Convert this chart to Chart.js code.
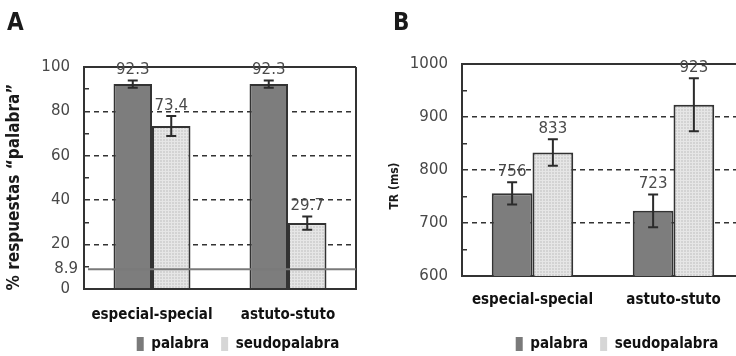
<!DOCTYPE html>
<html lang="es">
  <head>
    <meta charset="UTF-8" />
    <title>Respuestas palabra y TR</title>
    <script src="https://cdn.jsdelivr.net/npm/chart.js@4.4.1/dist/chart.umd.min.js"></script>
    <style>
      body { margin: 0; width: 736px; height: 356px; overflow: hidden; background: #fff; position: relative; }
      #a { position: absolute; left: 0; top: 0; }
      #b { position: absolute; left: 368px; top: 0; }
    </style>
  </head>
  <body>
    <canvas id="a" width="368" height="356"></canvas>
    <canvas id="b" width="384" height="356"></canvas>
    <script>
    const categorias = ['especial-special', 'astuto-stuto'];
    const series = ['palabra', 'seudopalabra'];

    // panel A: % respuestas "palabra"
    const pctPalabra = [92.3, 92.3];
    const pctSeudo = [73.4, 29.7];
    const errPctPalabra = [1.6, 1.6];
    const errPctSeudo = [4.5, 3.0];
    const nivelAzar = 8.9;

    // panel B: tiempo de respuesta (ms)
    const trPalabra = [756, 723];
    const trSeudo = [833, 923];
    const errTrPalabra = [21, 31];
    const errTrSeudo = [25, 50];

    const CONDENSADA = '"DejaVu Sans Condensed", "DejaVu Sans", sans-serif';
    const NUMEROS = '15px "DejaVu Sans"';
    const OSCURO = '#333';
    const NADA = 'rgba(0,0,0,0)';

    // trama cuadriculada gris claro para seudopalabra
    function trama(ctx) {
      const c = document.createElement('canvas');
      c.width = 3; c.height = 3;
      const g = c.getContext('2d');
      g.fillStyle = '#d3d3d3'; g.fillRect(0, 0, 3, 3);
      g.fillStyle = '#e6e6e6'; g.fillRect(0, 0, 3, 1); g.fillRect(0, 0, 1, 3);
      return ctx.createPattern(c, 'repeat');
    }

    // barras de error + valor encima, y la linea de azar
    const errores = {
      id: 'errores',
      afterDatasetsDraw(chart, args, opts) {
        const {ctx, chartArea} = chart;
        const y = chart.scales.y;
        ctx.save();
        if (opts.linea) {
          const py = y.getPixelForValue(opts.linea);
          ctx.strokeStyle = '#7a7a7a'; ctx.lineWidth = 2;
          ctx.beginPath(); ctx.moveTo(chartArea.left + 4, py); ctx.lineTo(chartArea.right, py); ctx.stroke();
          ctx.font = NUMEROS; ctx.fillStyle = '#484848';
          ctx.textAlign = 'right'; ctx.textBaseline = 'middle';
          ctx.fillText(String(opts.linea), chartArea.left - 6, py);
        }
        chart.data.datasets.forEach((ds, i) => {
          chart.getDatasetMeta(i).data.forEach((bar, j) => {
            const v = ds.data[j], e = ds.errores[j];
            const arriba = y.getPixelForValue(v + e), abajo = y.getPixelForValue(v - e);
            ctx.strokeStyle = '#2b2b2b'; ctx.lineWidth = 2;
            ctx.beginPath();
            ctx.moveTo(bar.x, arriba); ctx.lineTo(bar.x, abajo);
            ctx.moveTo(bar.x - 5, arriba); ctx.lineTo(bar.x + 5, arriba);
            ctx.moveTo(bar.x - 5, abajo); ctx.lineTo(bar.x + 5, abajo);
            ctx.stroke();
            ctx.font = NUMEROS; ctx.fillStyle = '#4a4a4a';
            ctx.textAlign = 'center'; ctx.textBaseline = 'middle';
            ctx.fillText(v.toFixed(opts.decimales), bar.x, arriba - opts.sep);
          });
        });
        ctx.restore();
      }
    };

    // letra del panel y titulo del eje y
    const rotulos = {
      id: 'rotulos',
      afterDraw(chart, args, o) {
        const ctx = chart.ctx;
        ctx.save();
        ctx.fillStyle = '#1a1a1a';
        ctx.font = 'bold 24px ' + CONDENSADA;
        ctx.textAlign = 'left'; ctx.textBaseline = 'alphabetic';
        ctx.fillText(o.letra, o.letraX, 30);
        ctx.translate(o.ejeX, o.ejeY);
        ctx.rotate(-Math.PI / 2);
        ctx.font = o.ejeFuente + ' ' + CONDENSADA;
        ctx.textAlign = 'center'; ctx.textBaseline = 'middle';
        ctx.fillText(o.eje, 0, 0);
        ctx.restore();
      }
    };

    // mover la leyenda a su sitio
    const moverLeyenda = {
      id: 'moverLeyenda',
      afterLayout(chart, args, o) {
        const l = chart.legend;
        l.left += o.dx; l.right += o.dx;
        l.top += o.dy; l.bottom += o.dy;
      }
    };

    function leyendaItems(chart) {
      const items = Chart.defaults.plugins.legend.labels.generateLabels(chart);
      items.forEach((it, i) => {
        it.lineWidth = 0;
        it.strokeStyle = NADA;
        it.fillStyle = i === 0 ? '#7a7a7a' : '#d6d6d6';
      });
      return items;
    }

    function grafico(id, cfg) {
      const ctx = document.getElementById(id).getContext('2d');
      const esMayor = v => (v - cfg.min) % cfg.paso === 0;
      return new Chart(ctx, {
        type: 'bar',
        data: {
          labels: categorias,
          datasets: [{
            label: series[0],
            data: cfg.palabra,
            errores: cfg.errPalabra,
            backgroundColor: '#7d7d7d',
            borderColor: OSCURO,
            borderWidth: 2
          }, {
            label: series[1],
            data: cfg.seudo,
            errores: cfg.errSeudo,
            backgroundColor: trama(ctx),
            borderColor: OSCURO,
            borderWidth: 2
          }]
        },
        options: {
          responsive: false,
          animation: false,
          devicePixelRatio: 1,
          events: [],
          layout: { padding: { left: 0, top: cfg.arriba, right: cfg.derecha, bottom: cfg.abajo } },
          datasets: { bar: { categoryPercentage: cfg.cat, barPercentage: 1 } },
          scales: {
            x: {
              afterFit: s => { s.height = cfg.altoX; },
              grid: {
                offset: true,
                drawTicks: false,
                lineWidth: 2,
                color: c => (c.type === 'scale' ? OSCURO : NADA)
              },
              border: { color: OSCURO, width: 2 },
              ticks: {
                autoSkip: false, maxRotation: 0,
                padding: cfg.padX,
                color: '#111',
                font: { family: CONDENSADA, size: 15, weight: 'bold' }
              }
            },
            y: {
              min: cfg.min, max: cfg.max,
              afterFit: s => { s.width = cfg.anchoY; },
              grid: {
                drawTicks: true,
                tickLength: -5,
                tickWidth: 1.5,
                tickColor: c => (c.tick && !esMayor(c.tick.value) ? OSCURO : NADA),
                color: c => (c.tick && esMayor(c.tick.value) ? OSCURO : NADA),
                lineWidth: c => (c.tick && (c.tick.value === cfg.min || c.tick.value === cfg.max) ? 2 : 1.5)
              },
              border: {
                color: OSCURO, width: 2,
                dash: c => (c.tick && c.tick.value !== cfg.min && c.tick.value !== cfg.max ? [5, 4] : [])
              },
              ticks: {
                stepSize: cfg.paso / 2,
                autoSkip: false,
                padding: 19,
                color: '#484848',
                font: { family: 'DejaVu Sans', size: 15 },
                callback: v => (esMayor(v) ? String(v) : '')
              }
            }
          },
          plugins: {
            tooltip: { enabled: false },
            legend: {
              position: 'bottom',
              labels: {
                boxWidth: 7, boxHeight: 14,
                padding: 12,
                color: '#111',
                font: { family: CONDENSADA, size: 15, weight: 'bold' },
                generateLabels: leyendaItems
              }
            },
            errores: { linea: cfg.linea, decimales: cfg.decimales, sep: cfg.sep },
            rotulos: cfg.rotulos,
            moverLeyenda: cfg.leyenda
          }
        },
        plugins: [errores, rotulos, moverLeyenda]
      });
    }

    grafico('a', {
      palabra: pctPalabra, seudo: pctSeudo,
      errPalabra: errPctPalabra, errSeudo: errPctSeudo,
      min: 0, max: 100, paso: 20,
      linea: nivelAzar, decimales: 1, sep: 10,
      arriba: 67, abajo: -7, derecha: 12, anchoY: 84, altoX: 37, padX: 17, cat: 0.566,
      leyenda: { dx: 60, dy: -1.5 },
      rotulos: { letra: 'A', letraX: 7, eje: '% respuestas \u201cpalabra\u201d', ejeX: 15, ejeY: 187, ejeFuente: 'bold 17px' }
    });

    grafico('b', {
      palabra: trPalabra, seudo: trSeudo,
      errPalabra: errTrPalabra, errSeudo: errTrSeudo,
      min: 600, max: 1000, paso: 100,
      linea: 0, decimales: 0, sep: 10,
      arriba: 64, abajo: 7, derecha: 8, anchoY: 94, altoX: 36, padX: 15, cat: 0.578,
      leyenda: { dx: 61, dy: 12.5 },
      rotulos: { letra: 'B', letraX: 25, eje: 'TR (ms)', ejeX: 27, ejeY: 186, ejeFuente: 'bold 12px' }
    });
    </script>
  </body>
</html>
